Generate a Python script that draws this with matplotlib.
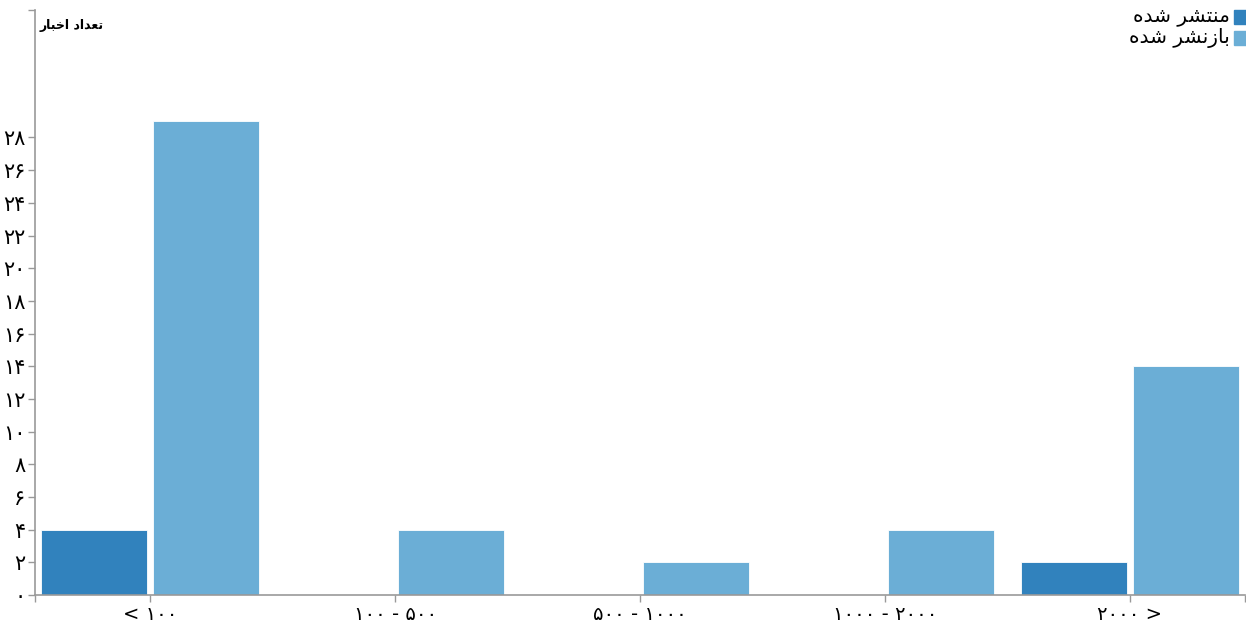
import matplotlib
matplotlib.use("Agg")
import matplotlib.pyplot as plt
import numpy as np

# data
categories = ["< ۱۰۰", "۱۰۰ - ۵۰۰", "۵۰۰ - ۱۰۰۰", "۱۰۰۰ - ۲۰۰۰", "۲۰۰۰ >"]
published = [4, 0, 0, 0, 2]
republished = [29, 4, 2, 4, 14]
series_names = ["منتشر شده", "بازنشر شده"]
y_label = "تعداد اخبار"
y_ticks = list(range(0, 29, 2))

colors = ["#3182bd", "#6baed6"]

# matplotlib has no arabic shaping, so map letters to presentation forms
# (isolated, final, initial, medial); None means the letter does not join forward
FORMS = {
    "ا": ("\uFE8D", "\uFE8E", None, None),
    "ب": ("\uFE8F", "\uFE90", "\uFE91", "\uFE92"),
    "ت": ("\uFE95", "\uFE96", "\uFE97", "\uFE98"),
    "خ": ("\uFEA5", "\uFEA6", "\uFEA7", "\uFEA8"),
    "د": ("\uFEA9", "\uFEAA", None, None),
    "ر": ("\uFEAD", "\uFEAE", None, None),
    "ز": ("\uFEAF", "\uFEB0", None, None),
    "ش": ("\uFEB5", "\uFEB6", "\uFEB7", "\uFEB8"),
    "ع": ("\uFEC9", "\uFECA", "\uFECB", "\uFECC"),
    "م": ("\uFEE1", "\uFEE2", "\uFEE3", "\uFEE4"),
    "ن": ("\uFEE5", "\uFEE6", "\uFEE7", "\uFEE8"),
    "ه": ("\uFEE9", "\uFEEA", "\uFEEB", "\uFEEC"),
}


def shape(text):
    out = []
    for i, ch in enumerate(text):
        if ch not in FORMS:
            out.append(ch)
            continue
        prev = text[i - 1] if i > 0 else ""
        nxt = text[i + 1] if i + 1 < len(text) else ""
        joins_prev = prev in FORMS and FORMS[prev][2] is not None
        joins_next = FORMS[ch][2] is not None and nxt in FORMS
        iso, fin, ini, med = FORMS[ch]
        if joins_prev and joins_next:
            out.append(med)
        elif joins_prev:
            out.append(fin)
        elif joins_next:
            out.append(ini)
        else:
            out.append(iso)
    return "".join(reversed(out))


def fa_digits(n):
    return str(n).translate(str.maketrans("0123456789", "۰۱۲۳۴۵۶۷۸۹"))


plt.rcParams["font.family"] = ["DejaVu Sans"]

fig = plt.figure(figsize=(12.46, 6.23), dpi=100)
ax = fig.add_axes([35 / 1246, 28 / 623, 1210 / 1246, 585 / 623])

x = np.arange(len(categories))
w = 0.433
off = 0.229
ax.bar(x - off, published, w, color=colors[0], edgecolor="white", linewidth=0.6)
ax.bar(x + off, republished, w, color=colors[1], edgecolor="white", linewidth=0.6)

ax.set_xlim(-0.471, 4.47)
ax.set_ylim(0, 35.8)

ax.set_xticks(x)
ax.set_xticklabels(categories, fontsize=14)
ax.set_yticks(y_ticks)
ax.set_yticklabels([fa_digits(v) for v in y_ticks], fontsize=15)
# outer ticks at the ends of the axes, like a d3 domain path
ax.set_yticks([35.8], minor=True)
ax.set_xticks([-0.471, 4.47], minor=True)

for s in ["top", "right"]:
    ax.spines[s].set_visible(False)
for s in ["left", "bottom"]:
    ax.spines[s].set_color("#999999")
    ax.spines[s].set_linewidth(1.2)
ax.tick_params(axis="both", which="both", colors="#999999", labelcolor="black",
               length=5, width=1)
ax.tick_params(axis="y", pad=2)
ax.tick_params(axis="x", pad=2)

# y axis title at the top of the axis
fig.text(40 / 1246, 1 - 25 / 623, shape(y_label), fontsize=9, fontweight="bold",
         ha="left", va="center")

# legend top right, text to the left of the swatches
for i, name in enumerate(series_names):
    yy = 1 - (17 + i * 21) / 623
    fig.patches.append(plt.Rectangle((1234 / 1246, yy - 7 / 623), 12 / 1246, 14 / 623,
                                     transform=fig.transFigure, color=colors[i]))
    fig.text(1230 / 1246, yy, shape(name), fontsize=14.5, ha="right", va="center")

fig.savefig("out.png", dpi=100)
